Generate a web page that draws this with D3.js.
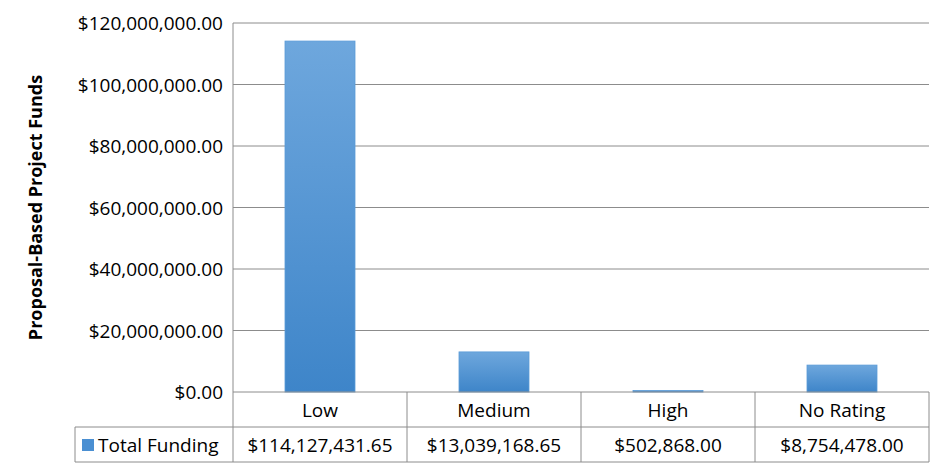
<!DOCTYPE html>
<html><head><meta charset="utf-8">
<script src="https://cdn.jsdelivr.net/npm/d3@7"></script>
<style>body{margin:0;background:#fff;} text{font-family:"Open Sans","Liberation Sans",sans-serif;fill:#000;}</style>
</head><body>
<script>
var categories = ["Low", "Medium", "High", "No Rating"];
var values = [114127431.65, 13039168.65, 502868.00, 8754478.00];
var seriesName = "Total Funding";
var yTicks = [0, 20000000, 40000000, 60000000, 80000000, 100000000, 120000000];

var W = 950, H = 466;
var pLeft = 233, pRight = 929, pTop = 23, pBottom = 392, rowH = 35, legendLeft = 75;
var fs = "19px";

var svg = d3.select("body").append("svg").attr("width", W).attr("height", H);

var defs = svg.append("defs");
var grad = defs.append("linearGradient").attr("id", "bg").attr("x1", 0).attr("y1", 0).attr("x2", 0).attr("y2", 1);
grad.append("stop").attr("offset", "0%").attr("stop-color", "#6ea7dd");
grad.append("stop").attr("offset", "100%").attr("stop-color", "#3e85c9");

var x = d3.scaleBand().domain(categories).range([pLeft, pRight]);
var y = d3.scaleLinear().domain([0, 120000000]).range([pBottom, pTop]);
var fmt = d3.format("$,.2f");

// gridlines
svg.append("g").selectAll("line").data(yTicks.slice(1)).enter().append("line")
    .attr("x1", pLeft).attr("x2", pRight)
    .attr("y1", function(d){ return y(d); }).attr("y2", function(d){ return y(d); })
    .attr("stroke", "#8c8c8c").attr("stroke-width", 1);

// y axis labels
svg.append("g").selectAll("text").data(yTicks).enter().append("text")
    .attr("x", pLeft - 10).attr("y", function(d){ return y(d) + 7; })
    .attr("text-anchor", "end").style("font-size", fs)
    .text(function(d){ return fmt(d); });

svg.append("text")
    .attr("transform", "translate(42," + ((pTop + pBottom) / 2) + ") rotate(-90)")
    .attr("text-anchor", "middle").style("font-size", "18px").style("font-weight", "bold")
    .text("Proposal-Based Project Funds");

// bars
var bw = 70;
svg.append("g").selectAll("rect").data(values).enter().append("rect")
    .attr("x", function(d, i){ return x(categories[i]) + x.bandwidth() / 2 - bw / 2; })
    .attr("y", function(d){ return y(d); })
    .attr("width", bw)
    .attr("height", function(d){ return pBottom - y(d); })
    .attr("fill", "url(#bg)").attr("stroke", "#5a9bd8").attr("stroke-width", 0.8);

svg.append("line").attr("x1", pLeft).attr("x2", pLeft).attr("y1", pTop).attr("y2", pBottom + 2 * rowH)
    .attr("stroke", "#8c8c8c");

// table
var g = svg.append("g").attr("stroke", "#8c8c8c").attr("fill", "none");
g.append("line").attr("x1", pLeft).attr("x2", pRight).attr("y1", pBottom).attr("y2", pBottom);
g.append("line").attr("x1", legendLeft).attr("x2", pRight).attr("y1", pBottom + rowH).attr("y2", pBottom + rowH);
g.append("line").attr("x1", legendLeft).attr("x2", pRight).attr("y1", pBottom + 2 * rowH).attr("y2", pBottom + 2 * rowH);
g.append("line").attr("x1", legendLeft).attr("x2", legendLeft).attr("y1", pBottom + rowH).attr("y2", pBottom + 2 * rowH);
g.selectAll(".v").data(categories).enter().append("line")
    .attr("x1", function(d){ return x(d) + x.bandwidth(); }).attr("x2", function(d){ return x(d) + x.bandwidth(); })
    .attr("y1", pBottom).attr("y2", pBottom + 2 * rowH);

svg.append("g").selectAll("text").data(categories).enter().append("text")
    .attr("x", function(d){ return x(d) + x.bandwidth() / 2; }).attr("y", pBottom + 25)
    .attr("text-anchor", "middle").style("font-size", fs).text(function(d){ return d; });

svg.append("g").selectAll("text").data(values).enter().append("text")
    .attr("x", function(d, i){ return x(categories[i]) + x.bandwidth() / 2; }).attr("y", pBottom + rowH + 25)
    .attr("text-anchor", "middle").style("font-size", fs).text(function(d){ return fmt(d); });

svg.append("rect").attr("x", 82).attr("y", pBottom + rowH + 12).attr("width", 12).attr("height", 12)
    .attr("fill", "#4a8fd2");
svg.append("text").attr("x", 98).attr("y", pBottom + rowH + 25).style("font-size", fs).text(seriesName);
</script>
</body></html>
